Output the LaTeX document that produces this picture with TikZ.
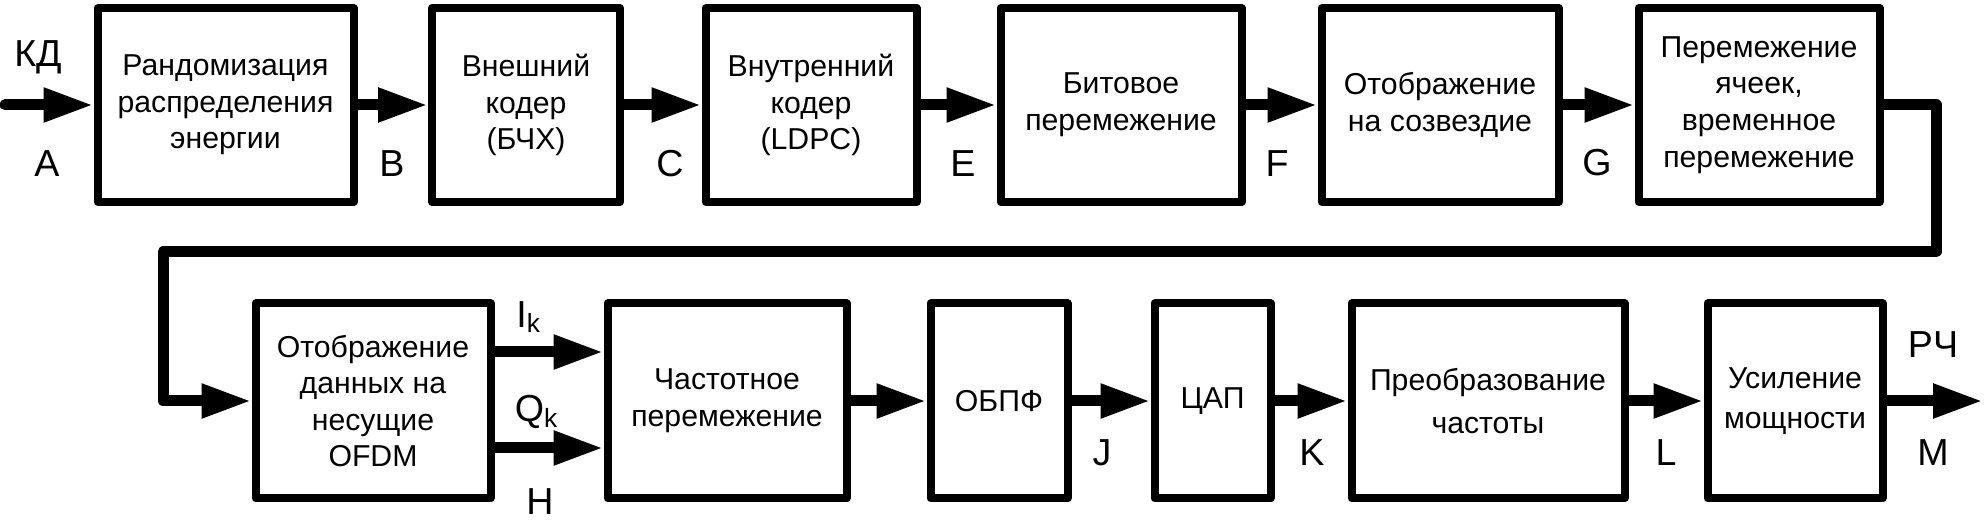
\documentclass[tikz,border=0pt]{standalone}
\usepackage{fontspec}
\setmainfont{Liberation Sans}
\usetikzlibrary{arrows.meta}

\begin{document}
\begin{tikzpicture}[
		blk/.style={draw, line width=0.08cm, line join=round, inner sep=0pt, align=center, font=\fontsize{8.6}{10.4}\selectfont},
		lbl/.style={inner sep=0pt, font=\fontsize{10.7}{12}\selectfont},
		conn/.style={line width=0.11cm, line cap=round, line join=round, -{Triangle[length=0.5cm, width=0.32cm]}}
	]
			%%%%% START %%%%%
			
			\useasboundingbox (0, 0) rectangle (19.88, -5.2);
			
			% upper row
			\node[blk, minimum width=2.56cm, minimum height=1.94cm] (rand) at (2.255, -1.05) {Рандомизация\\распределения\\энергии};
			\node[blk, minimum width=1.88cm, minimum height=1.94cm] (outer) at (5.26, -1.05) {Внешний\\кодер\\(БЧХ)};
			\node[blk, minimum width=2.11cm, minimum height=1.94cm] (inner) at (8.11, -1.05) {Внутренний\\кодер\\(LDPC)};
			\node[blk, minimum width=2.41cm, minimum height=1.94cm] (bitil) at (11.21, -1.05) {Битовое\\перемежение};
			\node[blk, minimum width=2.37cm, minimum height=1.94cm] (const) at (14.40, -1.05) {Отображение\\на созвездие};
			\node[blk, minimum width=2.41cm, minimum height=1.94cm] (cellil) at (17.59, -1.05) {Перемежение\\ячеек,\\временное\\перемежение};
			
			% lower row
			\node[blk, minimum width=2.35cm, minimum height=1.95cm] (ofdm) at (3.73, -4.01) {Отображение\\данных на\\несущие\\OFDM};
			\node[blk, minimum width=2.39cm, minimum height=1.95cm] (freqil) at (7.27, -4.01) {Частотное\\перемежение};
			\node[blk, minimum width=1.37cm, minimum height=1.95cm] (ifft) at (9.99, -4.01) {ОБПФ};
			\node[blk, minimum width=1.16cm, minimum height=1.95cm] (dac) at (12.125, -4.01) {ЦАП};
			\node[blk, minimum width=2.73cm, minimum height=1.95cm] (upconv) at (14.88, -4.01) {Преобразование\\[2pt]частоты};
			\node[blk, minimum width=1.75cm, minimum height=1.95cm] (amp) at (17.95, -4.01) {Усиление\\[1pt]мощности};
			
			\coordinate (in) at (0.05, -1.05);
			\coordinate (turnR) at (19.36, -2.52);
			\coordinate (turnL) at (1.63, -2.52);
			\coordinate (out) at (19.83, -4.01);
			
			\draw[conn] (in) -- (rand);
			\draw[conn] (rand) -- (outer);
			\draw[conn] (outer) -- (inner);
			\draw[conn] (inner) -- (bitil);
			\draw[conn] (bitil) -- (const);
			\draw[conn] (const) -- (cellil);
			\draw[conn] (cellil.east) -| (turnR) -- (turnL) |- (ofdm.west);
			
			\draw[conn] ([yshift=0.49cm]ofdm.east) -- ([yshift=0.49cm]freqil.west);
			\draw[conn] ([yshift=-0.47cm]ofdm.east) -- ([yshift=-0.47cm]freqil.west);
			\draw[conn] (freqil) -- (ifft);
			\draw[conn] (ifft) -- (dac);
			\draw[conn] (dac) -- (upconv);
			\draw[conn] (upconv) -- (amp);
			\draw[conn] (amp) -- (out);
			
			% point labels
			\node[lbl] (kd) at (0.38, -0.57) {КД};
			\node[lbl] (pA) at (0.47, -1.64) {A};
			\node[lbl] (pB) at (3.92, -1.64) {B};
			\node[lbl] (pC) at (6.70, -1.64) {C};
			\node[lbl] (pE) at (9.63, -1.64) {E};
			\node[lbl] (pF) at (12.77, -1.64) {F};
			\node[lbl] (pG) at (15.97, -1.63) {G};
			\node[lbl] (ik) at (5.29, -3.17) {I\textsubscript{k}};
			\node[lbl] (qk) at (5.37, -4.12) {Q\textsubscript{k}};
			\node[lbl] (pH) at (5.40, -5.02) {H};
			\node[lbl] (pJ) at (11.02, -4.53) {J};
			\node[lbl] (pK) at (13.12, -4.53) {K};
			\node[lbl] (pL) at (16.66, -4.53) {L};
			\node[lbl] (rf) at (19.33, -3.45) {РЧ};
			\node[lbl] (pM) at (19.33, -4.53) {M};
			
			%%%%% END %%%%%
		\end{tikzpicture}
\end{document}
